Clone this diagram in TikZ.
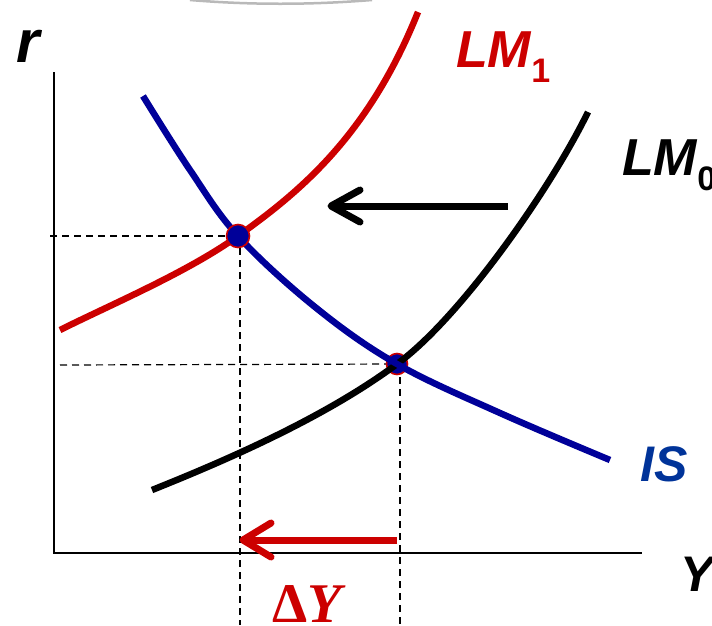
\documentclass[tikz,border=0pt]{standalone}
\usepackage{fontspec}
\setmainfont{Liberation Sans}
\newfontfamily\serifff{Liberation Serif}
\definecolor{lmred}{HTML}{CC0000}
\definecolor{isblue}{HTML}{000099}
\definecolor{islabel}{HTML}{003399}
\newcommand{\lowsub}[1]{\raisebox{-15pt}{\fontsize{34}{34}\selectfont\upshape #1}}
\tikzset{
  curve/.style={line width=6.5pt, line cap=butt},
  axisline/.style={line width=1.6pt},
  guide/.style={line width=1.2pt, dash pattern=on 7pt off 5pt},
  shiftarrow/.style={line width=7pt, line cap=round, line join=round},
  eqdot/.style={circle, fill=isblue, draw=lmred, line width=1.6pt, inner sep=0pt},
  lbl/.style={inner sep=0pt, anchor=base west, font=\bfseries\itshape},
}
\begin{document}
\begin{tikzpicture}[x=1pt,y=-1pt]
\useasboundingbox (0,0) rectangle (712,625);
% faint shadow at top
\draw[gray!55, line width=2.5pt] (190,0) .. controls (250,5) and (310,5) .. (372,0);
% axes
\coordinate (o) at (54,553);
\coordinate (ytop) at (54,72);
\coordinate (xend) at (642,553);
\draw[axisline] (ytop) -- (o) -- (xend);
% equilibrium points
\coordinate (e1) at (238,236);
\coordinate (e0) at (397,364);
% dashed guides
\coordinate (h1) at (50,236);
\coordinate (h0) at (60,365);
\coordinate (v1) at (240,625);
\coordinate (v0) at (400,625);
\draw[guide] (h1) -- (e1);
\draw[guide] (h0) -- (e0);
\draw[guide] (240,236) -- (v1);
\draw[guide] (400,365) -- (v0);
% lower equilibrium dot (under curves)
\node[eqdot, minimum size=21pt] (d0) at (e0) {};
% LM0
\draw[curve, black] (152,490) .. controls (232,458) and (327,416) .. (e0)
   .. controls (460,318) and (550,190) .. (588,112);
% IS
\draw[curve, isblue] plot[smooth, tension=0.6] coordinates {(143,96) (190,170) (238,236) (315,307) (397,364) (500,413) (610,460)};
% LM1
\draw[curve, lmred] (60,330) .. controls (110,305) and (188,272) .. (e1)
   .. controls (298,193) and (368,137) .. (418,12);
% upper equilibrium dot
\node[eqdot, minimum size=23pt] (d1) at (e1) {};
% shift arrows
\coordinate (a0) at (508,206);
\coordinate (a1) at (331,206);
\draw[shiftarrow, black, line cap=butt] (a0) -- (a1);
\draw[shiftarrow, black] (360,190) -- (a1) -- (360,222);
\coordinate (b0) at (397,540);
\coordinate (b1) at (243,540);
\draw[shiftarrow, lmred, line cap=butt] (b0) -- (b1);
\draw[shiftarrow, lmred] (271,523) -- (b1) -- (271,557);
% labels
\node[lbl, font=\fontsize{60}{60}\selectfont\bfseries\itshape] (r) at (16,62) {r};
\node[lbl, lmred, font=\fontsize{52}{52}\selectfont\bfseries\itshape] (lm1) at (456,67) {LM\lowsub{1}};
\node[lbl, black, font=\fontsize{52}{52}\selectfont\bfseries\itshape] (lm0) at (622,175) {LM\lowsub{0}};
\node[lbl, islabel, font=\fontsize{50}{50}\selectfont\bfseries\itshape] (is) at (640,481) {IS};
\node[lbl, black, font=\fontsize{50}{50}\selectfont\bfseries\itshape] (y) at (680,591) {Y};
\node[lbl, lmred, font=\fontsize{56}{56}\selectfont\serifff\bfseries] (dy) at (272,622) {Δ\textit{Y}};
\end{tikzpicture}
\end{document}
